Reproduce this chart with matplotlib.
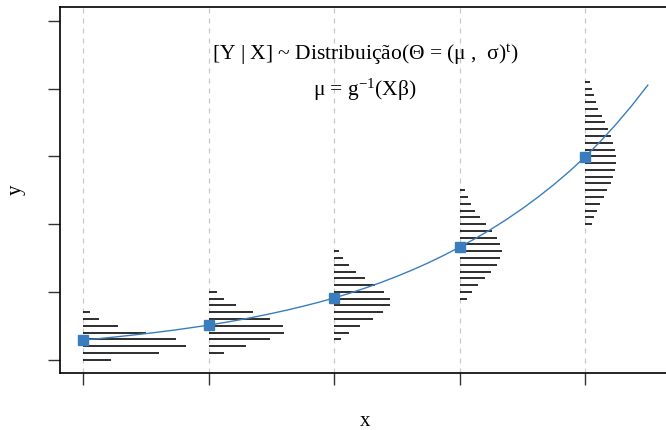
import numpy as np
import matplotlib
matplotlib.use('Agg')
from matplotlib import pyplot as plt

plt.rcParams['font.family'] = ['Liberation Serif', 'DejaVu Serif']
plt.rcParams['mathtext.fontset'] = 'custom'
plt.rcParams['mathtext.rm'] = 'Liberation Serif'
plt.rcParams['mathtext.it'] = 'Liberation Serif:italic'
plt.rcParams['mathtext.bf'] = 'Liberation Serif:bold'

# Group positions along x
x_groups = [1, 2, 3, 4, 5]
mu_points = [0.29, 0.51, 0.91, 1.66, 2.99]

# Mean curve
curve_x = [1.0, 1.125, 1.25, 1.375, 1.5, 1.625, 1.75, 1.875,
           2.0, 2.125, 2.25, 2.375, 2.5, 2.625, 2.75, 2.875,
           3.0, 3.125, 3.25, 3.375, 3.5, 3.625, 3.75, 3.875,
           4.0, 4.125, 4.25, 4.375, 4.5, 4.625, 4.75, 4.875,
           5.0, 5.125, 5.25, 5.375, 5.5]
curve_y = [0.29, 0.311, 0.334, 0.359, 0.385, 0.413, 0.443, 0.476,
           0.51, 0.548, 0.589, 0.633, 0.681, 0.732, 0.787, 0.846,
           0.91, 0.981, 1.058, 1.140, 1.229, 1.325, 1.428, 1.540,
           1.66, 1.787, 1.923, 2.070, 2.228, 2.398, 2.581, 2.778,
           2.99, 3.226, 3.48, 3.754, 4.05]

# Histogram bins (y levels) and bar lengths for each group
bins1 = [0.0, 0.1, 0.2, 0.3, 0.4, 0.5, 0.6, 0.7]
dens1 = [0.223, 0.603, 0.818, 0.741, 0.504, 0.276, 0.127, 0.053]
bins2 = [0.1, 0.2, 0.3, 0.4, 0.5, 0.6, 0.7, 0.8, 0.9, 1.0]
dens2 = [0.125, 0.297, 0.486, 0.600, 0.595, 0.492, 0.351, 0.218, 0.125, 0.064]
bins3 = [0.3, 0.4, 0.5, 0.6, 0.7, 0.8, 0.9, 1.0, 1.1, 1.2, 1.3, 1.4, 1.5, 1.6]
dens3 = [0.056, 0.117, 0.207, 0.308, 0.393, 0.446, 0.446, 0.401, 0.329, 0.249,
         0.175, 0.117, 0.072, 0.042]
bins4 = [0.9, 1.0, 1.1, 1.2, 1.3, 1.4, 1.5, 1.6, 1.7, 1.8, 1.9, 2.0, 2.1, 2.2,
         2.3, 2.4, 2.5]
dens4 = [0.061, 0.101, 0.149, 0.202, 0.253, 0.297, 0.324, 0.335, 0.321, 0.295,
         0.255, 0.213, 0.165, 0.125, 0.093, 0.064, 0.042]
bins5 = [2.0, 2.1, 2.2, 2.3, 2.4, 2.5, 2.6, 2.7, 2.8, 2.9, 3.0, 3.1, 3.2, 3.3,
         3.4, 3.5, 3.6, 3.7, 3.8, 3.9, 4.0, 4.1]
dens5 = [0.053, 0.072, 0.093, 0.120, 0.149, 0.178, 0.205, 0.225, 0.241, 0.249,
         0.247, 0.239, 0.225, 0.205, 0.181, 0.157, 0.133, 0.106, 0.088, 0.069,
         0.053, 0.037]

y_ticks = [0, 1, 2, 3, 4, 5]

blue = '#3a7dbf'

fig = plt.figure(figsize=(6.66, 4.30), dpi=100)
ax = fig.add_axes([60 / 666, 57 / 430, 1 - 60 / 666, 366 / 430])

for xg in x_groups:
    ax.axvline(xg, color='#c8c8c8', lw=0.9, ls=(0, (4, 4)), zorder=1)

for xg, b, d in zip(x_groups, [bins1, bins2, bins3, bins4, bins5],
                    [dens1, dens2, dens3, dens4, dens5]):
    b = np.array(b)
    ax.hlines(b, xg, xg + np.array(d), color='black', lw=1.15, zorder=2)

ax.plot(curve_x, curve_y, color=blue, lw=1.0, zorder=3)
ax.plot(x_groups, mu_points, 's', color=blue, ms=7.5, zorder=4)

ax.set_xlim(0.8167, 5.645)
ax.set_ylim(-0.196, 5.203)
ax.set_xticks(x_groups)
ax.set_yticks(y_ticks)
ax.set_xticklabels([])
ax.set_yticklabels([])
ax.tick_params(length=8.5, width=1.0, color='#333333')
ax.spines['right'].set_visible(False)
for s in ['left', 'bottom', 'top']:
    ax.spines[s].set_linewidth(1.2)

fig.text(0.548, 1 - 55 / 430,
         '[Y | X] ~ Distribuição(Θ = (μ ,  σ)$^{\\mathrm{t}}$)',
         ha='center', va='center', fontsize=15.5)
fig.text(0.548, 1 - 90 / 430, 'μ = g$^{\\mathrm{-1}}$(Xβ)',
         ha='center', va='center', fontsize=15.5)

fig.text(16 / 666, 1 - 190 / 430, 'y', rotation=90, ha='center', va='center',
         fontsize=15)
fig.text(365 / 666, 1 - 421 / 430, 'x', ha='center', va='center', fontsize=15)

fig.savefig('out.png', dpi=100)
